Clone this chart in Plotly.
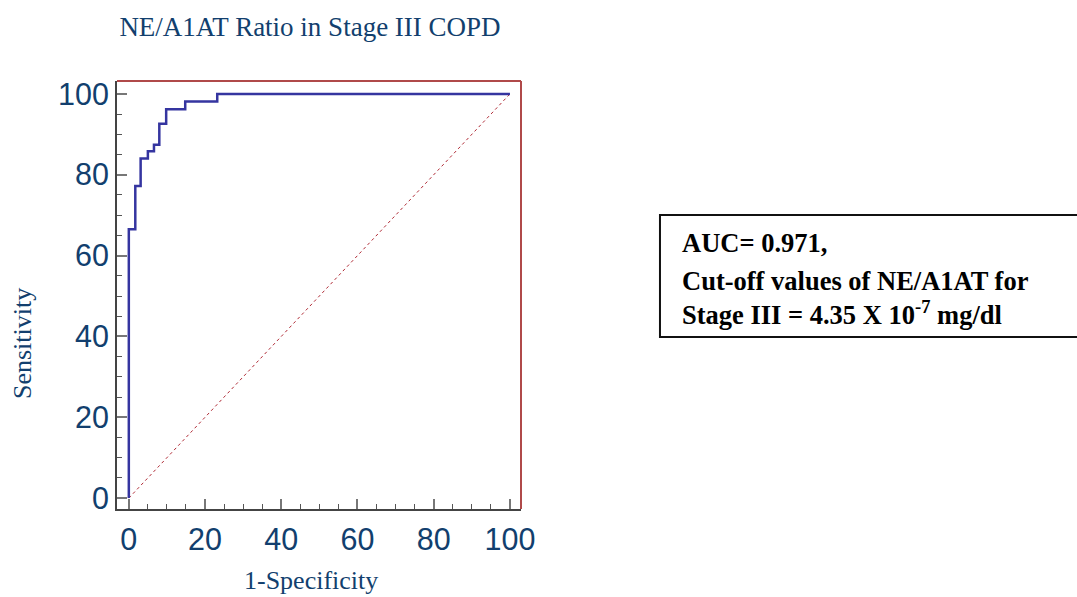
import plotly.graph_objects as go

# ROC data (percent)
fpr = [0, 0, 1.7, 3.1, 5.0, 6.6, 8.0, 9.8, 14.8, 23.2, 100]
tpr = [0, 66.5, 77.2, 84.0, 85.8, 87.4, 92.6, 96.2, 98.1, 100, 100]
ref_x = [0, 100]
ref_y = [0, 100]
tick_vals = [0, 20, 40, 60, 80, 100]

title_text = "NE/A1AT Ratio in Stage III COPD"
x_title = "1-Specificity"
y_title = "Sensitivity"
box_lines = ["AUC= 0.971,",
             "Cut-off values of NE/A1AT for",
             "Stage III = 4.35 X 10<sup>-7</sup> mg/dl"]

TXT = "#123f6e"
fig = go.Figure()
fig.add_trace(go.Scatter(x=ref_x, y=ref_y, mode="lines",
                         line=dict(color="#b02a35", width=1, dash="dot"),
                         showlegend=False, hoverinfo="skip"))
fig.add_trace(go.Scatter(x=fpr, y=tpr, mode="lines", line_shape="hv",
                         line=dict(color="#3535a0", width=2.5),
                         showlegend=False))

axis_common = dict(
    showgrid=False, zeroline=False, showline=True, linecolor="#444444", linewidth=2,
    ticks="inside", ticklen=10, tickwidth=1.5, tickcolor="#777777",
    tickvals=tick_vals, tickfont=dict(family="Liberation Sans, Arial", size=30.5, color=TXT),
    minor=dict(dtick=5, ticks="inside", ticklen=5, tickcolor="#555555", tickwidth=1),
)
fig.update_xaxes(range=[-3.1, 102.9], ticklabelstandoff=2, **axis_common)
fig.update_yaxes(range=[-2.7, 103.2], ticklabelstandoff=0, **axis_common)

shapes = [
    dict(type="line", xref="paper", yref="paper", x0=0, x1=1, y0=1, y1=1,
         line=dict(color="#b04a4a", width=2)),
    dict(type="line", xref="paper", yref="paper", x0=1, x1=1, y0=0, y1=1,
         line=dict(color="#b04a4a", width=2)),
    dict(type="rect", xref="paper", yref="paper", x0=1.344, x1=2.40, y0=0.402, y1=0.687,
         line=dict(color="#111111", width=2), fillcolor="rgba(0,0,0,0)"),
]
annotations = [
    dict(text=x_title, xref="paper", yref="paper", x=0.480, y=-0.166,
         xanchor="center", yanchor="middle", showarrow=False,
         font=dict(family="Liberation Serif", size=26, color=TXT)),
    dict(text=y_title, xref="paper", yref="paper", x=-0.235, y=0.3855, textangle=-90,
         xanchor="center", yanchor="middle", showarrow=False,
         font=dict(family="Liberation Serif", size=26, color=TXT)),
]
for txt, yy in zip(box_lines, [0.6215, 0.533, 0.458]):
    annotations.append(dict(text="<b>" + txt + "</b>", xref="paper", yref="paper",
                            x=1.393, y=yy, xanchor="left", yanchor="middle", showarrow=False,
                            font=dict(family="Liberation Serif", size=26.5, color="#000000")))

fig.update_layout(
    width=1077, height=597,
    margin=dict(l=117, r=556, t=81, b=88),
    plot_bgcolor="white", paper_bgcolor="white",
    title=dict(text=title_text, x=310 / 1077, xanchor="center", y=1 - 27 / 597, yanchor="middle",
               font=dict(family="Liberation Serif", size=27, color=TXT)),
    shapes=shapes, annotations=annotations,
)
fig.write_html("out.html")
